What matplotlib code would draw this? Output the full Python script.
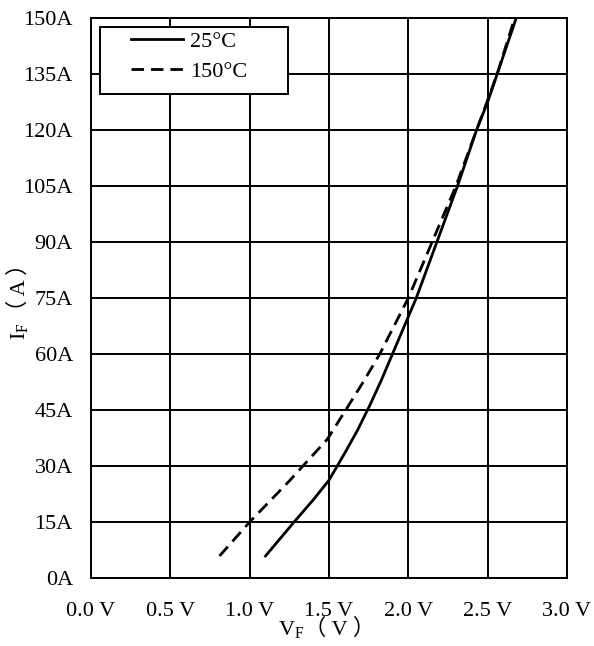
import matplotlib
matplotlib.use("Agg")
import matplotlib.pyplot as plt
from matplotlib.patches import Rectangle

# Data
v_25 = [1.10, 1.28, 1.40, 1.50, 1.60, 1.68, 1.76, 1.83, 1.90, 1.97, 2.05, 2.18, 2.31, 2.43, 2.50, 2.56, 2.68]
i_25 = [5.9, 15.0, 20.9, 26.2, 33.5, 39.6, 46.5, 53.0, 60.0, 67.0, 75.0, 90.0, 105.0, 120.0, 127.5, 135.0, 150.0]
v_150 = [0.81, 1.00, 1.25, 1.49, 1.61, 1.72, 1.82, 1.91, 2.00, 2.15, 2.30, 2.43, 2.50, 2.56, 2.67]
i_150 = [5.9, 15.0, 26.0, 37.2, 45.3, 52.8, 60.0, 67.5, 75.0, 90.0, 105.0, 120.0, 128.0, 135.0, 150.0]

x_ticks = [0.0, 0.5, 1.0, 1.5, 2.0, 2.5, 3.0]
x_labels = ["0.0 V", "0.5 V", "1.0 V", "1.5 V", "2.0 V", "2.5 V", "3.0 V"]
y_ticks = [0, 15, 30, 45, 60, 75, 90, 105, 120, 135, 150]
y_labels = ["0A", "15A", "30A", "45A", "60A", "75A", "90A", "105A", "120A", "135A", "150A"]
series_labels = ["25°C", "150°C"]

plt.rcParams['font.family'] = ['Liberation Serif', 'Noto Sans CJK SC', 'DejaVu Sans']
plt.rcParams['mathtext.fontset'] = 'custom'
plt.rcParams['mathtext.rm'] = 'Liberation Serif'
plt.rcParams['mathtext.it'] = 'Liberation Serif'

W, H = 594, 646
FS = 16
fig = plt.figure(figsize=(W / 100, H / 100), dpi=100)
ax = fig.add_axes([91 / W, 1 - 578 / H, (567 - 91) / W, (578 - 18) / H])

ax.plot(v_25, i_25, color='black', lw=2.0, ls='-', label=series_labels[0], zorder=3)
ax.plot(v_150, i_150, color='black', lw=2.0, ls=(0, (4.5, 2.5)), label=series_labels[1], zorder=3)

ax.set_xlim(0, 3.0)
ax.set_ylim(0, 150)
ax.set_xticks(x_ticks)
ax.set_xticklabels(x_labels)
ax.set_yticks(y_ticks)
ax.set_yticklabels(y_labels)
ax.set_axisbelow(True)
ax.grid(True, color='black', lw=1.4)
ax.tick_params(axis='x', length=0, labelsize=FS, pad=17)
ax.tick_params(axis='y', length=0, labelsize=FS, pad=13)
for s in ax.spines.values():
    s.set_linewidth(1.4)

# legend frame (box) and contents
ax_w, ax_h = 567 - 91, 578 - 18
box = Rectangle(((100 - 91) / ax_w, (578 - 94) / ax_h), 188 / ax_w, 67 / ax_h,
                transform=ax.transAxes, facecolor='white', edgecolor='black',
                lw=1.4, zorder=4)
ax.add_patch(box)
leg = ax.legend(loc='upper left', bbox_to_anchor=((131 - 91) / ax_w, (578 - 31) / ax_h),
                fontsize=FS, frameon=False, handlelength=2.35, handletextpad=0.3,
                borderpad=0, labelspacing=0.44, borderaxespad=0)
leg.set_zorder(5)

label_family = ['Liberation Serif', 'Noto Sans CJK SC']

# x axis label: V_F（ V ）
yb = 1 - 635 / H
tx1 = fig.text(304 / W, yb, "V$_\\mathregular{F}$", fontsize=FS, ha='right', va='baseline')
ax.annotate("（ V ）", xy=(1, yb), xycoords=(tx1, 'figure fraction'), fontsize=FS,
            ha='left', va='baseline', annotation_clip=False, family=label_family)

# y axis label: I_F（ A ）
xb = 25 / W
ty1 = fig.text(xb, 1 - 322 / H, "I$_\\mathregular{F}$", fontsize=FS, rotation=90,
               rotation_mode='anchor', ha='right', va='baseline')
ax.annotate("（ A ）", xy=(xb, 1), xycoords=('figure fraction', ty1), fontsize=FS,
            rotation=90, rotation_mode='anchor', ha='left', va='baseline',
            annotation_clip=False, family=label_family)

fig.savefig("out.png", dpi=100)
